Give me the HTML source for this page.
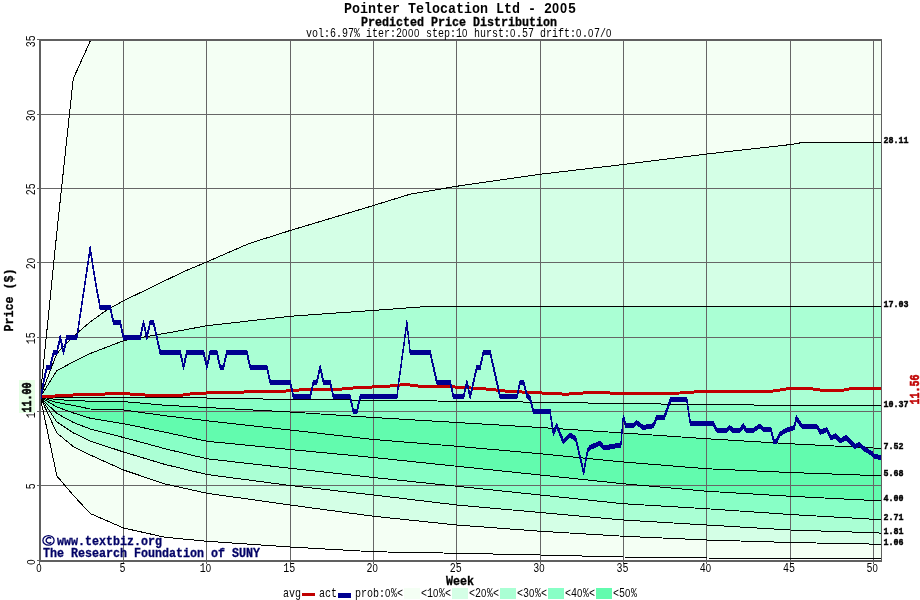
<!DOCTYPE html>
<html><head><meta charset="utf-8"><title>Pointer Telocation Ltd - 2005</title>
<style>html,body{margin:0;padding:0;background:#fff;}body{width:920px;height:600px;overflow:hidden;font-family:"Liberation Mono",monospace;}svg{display:block;}</style>
</head><body>
<svg width="920" height="600" viewBox="0 0 920 600">
<rect x="0" y="0" width="920" height="600" fill="#ffffff"/>
<g shape-rendering="crispEdges">
<polygon points="40.20,397.00 56.87,232.00 73.25,78.75 90.50,40.50 881.28,40.50 881.28,142.50 802.50,142.50 790.12,144.60 706.80,154.00 623.48,164.50 540.15,174.25 456.82,186.25 410.00,194.25 373.50,205.50 290.18,230.50 248.51,243.75 206.85,261.90 183.52,271.70 123.52,300.80 106.86,310.00 90.19,322.00 73.53,336.20 56.87,353.50 40.20,397.00" fill="#f4fff4"/>
<polygon points="40.20,397.00 56.87,353.50 73.53,336.20 90.19,322.00 106.86,310.00 123.52,300.80 183.52,271.70 206.85,261.90 248.51,243.75 290.18,230.50 373.50,205.50 410.00,194.25 456.82,186.25 540.15,174.25 623.48,164.50 706.80,154.00 790.12,144.60 802.50,142.50 881.28,142.50 881.28,306.50 440.16,306.50 420.16,307.00 373.50,310.40 290.18,316.25 206.85,325.75 174.35,331.70 123.52,340.70 90.19,353.50 73.53,361.70 56.87,370.70 40.20,397.00" fill="#d4ffe6"/>
<polygon points="40.20,397.00 56.87,370.70 73.53,361.70 90.19,353.50 123.52,340.70 174.35,331.70 206.85,325.75 290.18,316.25 373.50,310.40 420.16,307.00 440.16,306.50 881.28,306.50 881.28,405.90 873.45,405.80 790.12,405.40 706.80,404.50 623.48,403.60 540.15,402.20 456.82,401.25 373.50,400.20 290.18,399.50 206.85,398.00 165.19,397.80 123.52,397.60 90.19,398.00 73.53,397.80 56.87,397.50 40.20,397.00" fill="#aaffd4"/>
<polygon points="40.20,397.00 56.87,397.50 73.53,397.80 90.19,398.00 123.52,397.60 165.19,397.80 206.85,398.00 290.18,399.50 373.50,400.20 456.82,401.25 540.15,402.20 623.48,403.60 706.80,404.50 790.12,405.40 873.45,405.80 881.28,405.90 881.28,448.30 873.45,448.00 790.12,443.75 706.80,438.75 623.48,433.00 540.15,427.50 456.82,422.50 373.50,417.50 290.18,412.00 206.85,407.50 165.19,405.25 123.52,401.60 90.19,401.20 73.53,400.60 56.87,399.60 40.20,397.00" fill="#88ffc6"/>
<polygon points="40.20,397.00 56.87,399.60 73.53,400.60 90.19,401.20 123.52,401.60 165.19,405.25 206.85,407.50 290.18,412.00 373.50,417.50 456.82,422.50 540.15,427.50 623.48,433.00 706.80,438.75 790.12,443.75 873.45,448.00 881.28,448.30 881.28,475.60 873.45,475.50 790.12,472.50 706.80,468.75 623.48,462.00 540.15,453.75 456.82,446.25 373.50,439.50 290.18,430.00 206.85,420.75 165.19,415.75 123.52,410.00 90.19,409.00 73.53,405.50 56.87,402.50 40.20,397.00" fill="#62fbae"/>
<polygon points="40.20,397.00 56.87,402.50 73.53,405.50 90.19,409.00 123.52,410.00 165.19,415.75 206.85,420.75 290.18,430.00 373.50,439.50 456.82,446.25 540.15,453.75 623.48,462.00 706.80,468.75 790.12,472.50 873.45,475.50 881.28,475.60 881.28,500.60 873.45,500.50 790.12,496.25 706.80,491.25 623.48,483.75 540.15,475.00 456.82,466.25 373.50,457.50 290.18,449.50 206.85,441.25 165.19,432.25 123.52,423.70 90.19,418.20 73.53,413.00 56.87,407.00 40.20,397.00" fill="#62fbae"/>
<polygon points="40.20,397.00 56.87,407.00 73.53,413.00 90.19,418.20 123.52,423.70 165.19,432.25 206.85,441.25 290.18,449.50 373.50,457.50 456.82,466.25 540.15,475.00 623.48,483.75 706.80,491.25 790.12,496.25 873.45,500.50 881.28,500.60 881.28,519.70 873.45,519.25 790.12,514.50 706.80,508.75 623.48,503.75 540.15,495.00 456.82,486.25 373.50,477.50 290.18,468.25 206.85,458.75 165.19,448.75 123.52,437.50 90.19,429.00 73.53,422.50 56.87,413.50 40.20,397.00" fill="#88ffc6"/>
<polygon points="40.20,397.00 56.87,413.50 73.53,422.50 90.19,429.00 123.52,437.50 165.19,448.75 206.85,458.75 290.18,468.25 373.50,477.50 456.82,486.25 540.15,495.00 623.48,503.75 706.80,508.75 790.12,514.50 873.45,519.25 881.28,519.70 881.28,533.10 873.45,532.70 790.12,530.00 706.80,525.00 623.48,520.00 540.15,512.50 456.82,505.00 373.50,495.00 290.18,485.50 206.85,474.50 165.19,464.50 123.52,452.00 90.19,441.00 73.53,433.00 56.87,422.00 40.20,397.00" fill="#aaffd4"/>
<polygon points="40.20,397.00 56.87,422.00 73.53,433.00 90.19,441.00 123.52,452.00 165.19,464.50 206.85,474.50 290.18,485.50 373.50,495.00 456.82,505.00 540.15,512.50 623.48,520.00 706.80,525.00 790.12,530.00 873.45,532.70 881.28,533.10 881.28,544.25 873.45,544.10 790.12,542.50 706.80,540.00 623.48,536.25 540.15,531.25 456.82,525.00 373.50,516.25 290.18,505.00 206.85,493.25 165.19,484.00 123.52,470.00 90.19,455.00 73.53,446.80 56.87,433.00 40.20,397.00" fill="#d4ffe6"/>
<polygon points="40.20,397.00 56.87,433.00 73.53,446.80 90.19,455.00 123.52,470.00 165.19,484.00 206.85,493.25 290.18,505.00 373.50,516.25 456.82,525.00 540.15,531.25 623.48,536.25 706.80,540.00 790.12,542.50 873.45,544.10 881.28,544.25 881.28,558.50 873.45,558.50 790.12,558.50 706.80,558.00 623.48,557.00 540.15,555.00 456.82,553.25 373.50,551.75 290.18,547.00 206.85,541.25 165.19,537.30 123.52,528.00 90.19,513.50 73.53,495.50 56.87,476.00 40.20,397.00" fill="#f4fff4"/>
<rect x="123" y="41" width="1" height="523" fill="#666666"/>
<rect x="206" y="41" width="1" height="523" fill="#666666"/>
<rect x="290" y="41" width="1" height="523" fill="#666666"/>
<rect x="373" y="41" width="1" height="523" fill="#666666"/>
<rect x="456" y="41" width="1" height="523" fill="#666666"/>
<rect x="540" y="41" width="1" height="523" fill="#666666"/>
<rect x="623" y="41" width="1" height="523" fill="#666666"/>
<rect x="706" y="41" width="1" height="523" fill="#666666"/>
<rect x="790" y="41" width="1" height="523" fill="#666666"/>
<rect x="873" y="41" width="1" height="523" fill="#666666"/>
<rect x="37" y="114" width="844" height="1" fill="#666666"/>
<rect x="37" y="188" width="844" height="1" fill="#666666"/>
<rect x="37" y="262" width="844" height="1" fill="#666666"/>
<rect x="37" y="337" width="844" height="1" fill="#666666"/>
<rect x="37" y="411" width="844" height="1" fill="#666666"/>
<rect x="37" y="485" width="844" height="1" fill="#666666"/>
<polyline points="40.20,397.00 56.87,232.00 73.25,78.75 90.50,40.50 881.28,40.50" fill="none" stroke="#000000" stroke-width="1"/>
<polyline points="40.20,397.00 56.87,353.50 73.53,336.20 90.19,322.00 106.86,310.00 123.52,300.80 183.52,271.70 206.85,261.90 248.51,243.75 290.18,230.50 373.50,205.50 410.00,194.25 456.82,186.25 540.15,174.25 623.48,164.50 706.80,154.00 790.12,144.60 802.50,142.50 881.28,142.50" fill="none" stroke="#000000" stroke-width="1"/>
<polyline points="40.20,397.00 56.87,370.70 73.53,361.70 90.19,353.50 123.52,340.70 174.35,331.70 206.85,325.75 290.18,316.25 373.50,310.40 420.16,307.00 440.16,306.50 881.28,306.50" fill="none" stroke="#000000" stroke-width="1"/>
<polyline points="40.20,397.00 56.87,397.50 73.53,397.80 90.19,398.00 123.52,397.60 165.19,397.80 206.85,398.00 290.18,399.50 373.50,400.20 456.82,401.25 540.15,402.20 623.48,403.60 706.80,404.50 790.12,405.40 873.45,405.80 881.28,405.90" fill="none" stroke="#000000" stroke-width="1"/>
<polyline points="40.20,397.00 56.87,399.60 73.53,400.60 90.19,401.20 123.52,401.60 165.19,405.25 206.85,407.50 290.18,412.00 373.50,417.50 456.82,422.50 540.15,427.50 623.48,433.00 706.80,438.75 790.12,443.75 873.45,448.00 881.28,448.30" fill="none" stroke="#000000" stroke-width="1"/>
<polyline points="40.20,397.00 56.87,402.50 73.53,405.50 90.19,409.00 123.52,410.00 165.19,415.75 206.85,420.75 290.18,430.00 373.50,439.50 456.82,446.25 540.15,453.75 623.48,462.00 706.80,468.75 790.12,472.50 873.45,475.50 881.28,475.60" fill="none" stroke="#000000" stroke-width="1"/>
<polyline points="40.20,397.00 56.87,407.00 73.53,413.00 90.19,418.20 123.52,423.70 165.19,432.25 206.85,441.25 290.18,449.50 373.50,457.50 456.82,466.25 540.15,475.00 623.48,483.75 706.80,491.25 790.12,496.25 873.45,500.50 881.28,500.60" fill="none" stroke="#000000" stroke-width="1"/>
<polyline points="40.20,397.00 56.87,413.50 73.53,422.50 90.19,429.00 123.52,437.50 165.19,448.75 206.85,458.75 290.18,468.25 373.50,477.50 456.82,486.25 540.15,495.00 623.48,503.75 706.80,508.75 790.12,514.50 873.45,519.25 881.28,519.70" fill="none" stroke="#000000" stroke-width="1"/>
<polyline points="40.20,397.00 56.87,422.00 73.53,433.00 90.19,441.00 123.52,452.00 165.19,464.50 206.85,474.50 290.18,485.50 373.50,495.00 456.82,505.00 540.15,512.50 623.48,520.00 706.80,525.00 790.12,530.00 873.45,532.70 881.28,533.10" fill="none" stroke="#000000" stroke-width="1"/>
<polyline points="40.20,397.00 56.87,433.00 73.53,446.80 90.19,455.00 123.52,470.00 165.19,484.00 206.85,493.25 290.18,505.00 373.50,516.25 456.82,525.00 540.15,531.25 623.48,536.25 706.80,540.00 790.12,542.50 873.45,544.10 881.28,544.25" fill="none" stroke="#000000" stroke-width="1"/>
<polyline points="40.20,397.00 56.87,476.00 73.53,495.50 90.19,513.50 123.52,528.00 165.19,537.30 206.85,541.25 290.18,547.00 373.50,551.75 456.82,553.25 540.15,555.00 623.48,557.00 706.80,558.00 790.12,558.50 873.45,558.50 881.28,558.50" fill="none" stroke="#000000" stroke-width="1"/>
<path d="M41.00,395.70 L65.00,394.50 L65.00,396.50 L41.00,397.70Z M65.00,394.50 L82.00,393.50 L82.00,395.50 L65.00,396.50Z M82.00,393.50 L100.00,393.20 L100.00,395.20 L82.00,395.50Z M100.00,393.20 L115.00,392.60 L115.00,394.60 L100.00,395.20Z M115.00,392.60 L123.00,392.40 L123.00,394.40 L115.00,394.60Z M123.00,392.40 L132.00,393.20 L132.00,395.20 L123.00,394.40Z M132.00,393.20 L148.00,394.20 L148.00,396.20 L132.00,395.20Z M148.00,394.20 L182.00,394.20 L182.00,396.20 L148.00,396.20Z M182.00,394.20 L190.00,393.00 L190.00,395.00 L182.00,396.20Z M190.00,393.00 L200.00,392.20 L200.00,394.20 L190.00,395.00Z M200.00,392.20 L233.00,391.20 L233.00,393.20 L200.00,394.20Z M233.00,391.20 L266.00,390.60 L266.00,392.60 L233.00,393.20Z M266.00,390.60 L293.00,389.80 L293.00,391.80 L266.00,392.60Z M293.00,389.80 L303.00,388.40 L303.00,390.40 L293.00,391.80Z M303.00,388.40 L316.00,389.00 L316.00,391.00 L303.00,390.40Z M316.00,389.00 L336.00,388.80 L336.00,390.80 L316.00,391.00Z M336.00,388.80 L348.00,387.30 L348.00,389.30 L336.00,390.80Z M348.00,387.30 L366.00,386.20 L366.00,388.20 L348.00,389.30Z M366.00,386.20 L383.00,385.70 L383.00,387.70 L366.00,388.20Z M383.00,385.70 L395.00,384.50 L395.00,386.50 L383.00,387.70Z M395.00,384.50 L406.00,383.50 L406.00,385.50 L395.00,386.50Z M406.00,383.50 L413.00,384.30 L413.00,386.30 L406.00,385.50Z M413.00,384.30 L420.00,385.30 L420.00,387.30 L413.00,386.30Z M420.00,385.30 L450.00,385.70 L450.00,387.70 L420.00,387.30Z M450.00,385.70 L463.00,386.50 L463.00,388.50 L450.00,387.70Z M463.00,386.50 L476.00,387.30 L476.00,389.30 L463.00,388.50Z M476.00,387.30 L493.00,388.50 L493.00,390.50 L476.00,389.30Z M493.00,388.50 L501.00,389.80 L501.00,391.80 L493.00,390.50Z M501.00,389.80 L531.00,391.50 L531.00,393.50 L501.00,391.80Z M531.00,391.50 L549.00,392.30 L549.00,394.30 L531.00,393.50Z M549.00,392.30 L566.00,393.20 L566.00,395.20 L549.00,394.30Z M566.00,393.20 L583.00,392.00 L583.00,394.00 L566.00,395.20Z M583.00,392.00 L599.00,391.50 L599.00,393.50 L583.00,394.00Z M599.00,391.50 L616.00,392.30 L616.00,394.30 L599.00,393.50Z M616.00,392.30 L665.00,392.20 L665.00,394.20 L616.00,394.30Z M665.00,392.20 L680.00,392.00 L680.00,394.00 L665.00,394.20Z M680.00,392.00 L698.00,390.70 L698.00,392.70 L680.00,394.00Z M698.00,390.70 L747.00,390.30 L747.00,392.30 L698.00,392.70Z M747.00,390.30 L767.00,390.70 L767.00,392.70 L747.00,392.30Z M767.00,390.70 L777.00,389.50 L777.00,391.50 L767.00,392.70Z M777.00,389.50 L790.00,387.40 L790.00,389.40 L777.00,391.50Z M790.00,387.40 L810.00,387.50 L810.00,389.50 L790.00,389.40Z M810.00,387.50 L820.00,389.00 L820.00,391.00 L810.00,389.50Z M820.00,389.00 L844.00,389.00 L844.00,391.00 L820.00,391.00Z M844.00,389.00 L852.00,387.50 L852.00,389.50 L844.00,391.00Z M852.00,387.50 L881.00,387.40 L881.00,389.40 L852.00,389.50Z" fill="#c00000" stroke="#c00000" stroke-width="1" stroke-linejoin="round"/>
<path d="M41.00,394.93 L43.53,380.06 L43.53,384.06 L41.00,398.93Z M43.53,380.06 L46.87,365.19 L46.87,369.19 L43.53,384.06Z M46.87,365.19 L50.20,365.19 L50.20,369.19 L46.87,369.19Z M50.20,365.19 L53.53,350.32 L53.53,354.32 L50.20,369.19Z M53.53,350.32 L56.87,350.32 L56.87,354.32 L53.53,354.32Z M56.87,350.32 L60.20,335.45 L60.20,339.45 L56.87,354.32Z M60.20,335.45 L63.53,350.32 L63.53,354.32 L60.20,339.45Z M63.53,350.32 L66.86,335.45 L66.86,339.45 L63.53,354.32Z M66.86,335.45 L76.86,335.45 L76.86,339.45 L66.86,339.45Z M76.86,335.45 L80.20,313.14 L80.20,317.14 L76.86,339.45Z M80.20,313.14 L83.53,290.84 L83.53,294.84 L80.20,317.14Z M83.53,290.84 L86.86,268.54 L86.86,272.54 L83.53,294.84Z M86.86,268.54 L90.20,246.23 L90.20,250.23 L86.86,272.54Z M90.20,246.23 L93.53,268.54 L93.53,272.54 L90.20,250.23Z M93.53,268.54 L96.86,287.87 L96.86,291.87 L93.53,272.54Z M96.86,287.87 L100.19,305.71 L100.19,309.71 L96.86,291.87Z M100.19,305.71 L110.19,305.71 L110.19,309.71 L100.19,309.71Z M110.19,305.71 L113.53,320.58 L113.53,324.58 L110.19,309.71Z M113.53,320.58 L120.19,320.58 L120.19,324.58 L113.53,324.58Z M120.19,320.58 L123.53,335.45 L123.53,339.45 L120.19,324.58Z M123.53,335.45 L140.19,335.45 L140.19,339.45 L123.53,339.45Z M140.19,335.45 L143.52,320.58 L143.52,324.58 L140.19,339.45Z M143.52,320.58 L146.86,335.45 L146.86,339.45 L143.52,324.58Z M146.86,335.45 L150.19,320.58 L150.19,324.58 L146.86,339.45Z M150.19,320.58 L153.52,320.58 L153.52,324.58 L150.19,324.58Z M153.52,320.58 L156.86,335.45 L156.86,339.45 L153.52,324.58Z M156.86,335.45 L160.19,350.32 L160.19,354.32 L156.86,339.45Z M160.19,350.32 L180.19,350.32 L180.19,354.32 L160.19,354.32Z M180.19,350.32 L183.52,365.19 L183.52,369.19 L180.19,354.32Z M183.52,365.19 L186.85,350.32 L186.85,354.32 L183.52,369.19Z M186.85,350.32 L203.52,350.32 L203.52,354.32 L186.85,354.32Z M203.52,350.32 L206.85,365.19 L206.85,369.19 L203.52,354.32Z M206.85,365.19 L210.18,350.32 L210.18,354.32 L206.85,369.19Z M210.18,350.32 L216.85,350.32 L216.85,354.32 L210.18,354.32Z M216.85,350.32 L220.18,365.19 L220.18,369.19 L216.85,354.32Z M220.18,365.19 L223.51,365.19 L223.51,369.19 L220.18,369.19Z M223.51,365.19 L226.85,350.32 L226.85,354.32 L223.51,369.19Z M226.85,350.32 L246.85,350.32 L246.85,354.32 L226.85,354.32Z M246.85,350.32 L250.18,365.19 L250.18,369.19 L246.85,354.32Z M250.18,365.19 L266.84,365.19 L266.84,369.19 L250.18,369.19Z M266.84,365.19 L270.18,380.06 L270.18,384.06 L266.84,369.19Z M270.18,380.06 L290.18,380.06 L290.18,384.06 L270.18,384.06Z M290.18,380.06 L293.51,394.93 L293.51,398.93 L290.18,384.06Z M293.51,394.93 L310.17,394.93 L310.17,398.93 L293.51,398.93Z M310.17,394.93 L313.51,380.06 L313.51,384.06 L310.17,398.93Z M313.51,380.06 L316.84,380.06 L316.84,384.06 L313.51,384.06Z M316.84,380.06 L320.17,365.19 L320.17,369.19 L316.84,384.06Z M320.17,365.19 L323.50,380.06 L323.50,384.06 L320.17,369.19Z M323.50,380.06 L330.17,380.06 L330.17,384.06 L323.50,384.06Z M330.17,380.06 L333.50,394.93 L333.50,398.93 L330.17,384.06Z M333.50,394.93 L350.17,394.93 L350.17,398.93 L333.50,398.93Z M350.17,394.93 L353.50,409.80 L353.50,413.80 L350.17,398.93Z M353.50,409.80 L356.83,409.80 L356.83,413.80 L353.50,413.80Z M356.83,409.80 L360.17,394.93 L360.17,398.93 L356.83,413.80Z M360.17,394.93 L396.83,394.93 L396.83,398.93 L360.17,398.93Z M396.83,394.93 L400.16,369.65 L400.16,373.65 L396.83,398.93Z M400.16,369.65 L403.50,345.86 L403.50,349.86 L400.16,373.65Z M403.50,345.86 L406.83,320.58 L406.83,324.58 L403.50,349.86Z M406.83,320.58 L410.16,350.32 L410.16,354.32 L406.83,324.58Z M410.16,350.32 L430.16,350.32 L430.16,354.32 L410.16,354.32Z M430.16,350.32 L433.49,365.19 L433.49,369.19 L430.16,354.32Z M433.49,365.19 L436.83,380.06 L436.83,384.06 L433.49,369.19Z M436.83,380.06 L450.16,380.06 L450.16,384.06 L436.83,384.06Z M450.16,380.06 L453.49,394.93 L453.49,398.93 L450.16,384.06Z M453.49,394.93 L463.49,394.93 L463.49,398.93 L453.49,398.93Z M463.49,394.93 L466.82,380.06 L466.82,384.06 L463.49,398.93Z M466.82,380.06 L470.16,394.93 L470.16,398.93 L466.82,384.06Z M470.16,394.93 L473.49,380.06 L473.49,384.06 L470.16,398.93Z M473.49,380.06 L476.82,365.19 L476.82,369.19 L473.49,384.06Z M476.82,365.19 L480.16,365.19 L480.16,369.19 L476.82,369.19Z M480.16,365.19 L483.49,350.32 L483.49,354.32 L480.16,369.19Z M483.49,350.32 L490.16,350.32 L490.16,354.32 L483.49,354.32Z M490.16,350.32 L493.49,365.19 L493.49,369.19 L490.16,354.32Z M493.49,365.19 L496.82,380.06 L496.82,384.06 L493.49,369.19Z M496.82,380.06 L500.15,394.93 L500.15,398.93 L496.82,384.06Z M500.15,394.93 L516.82,394.93 L516.82,398.93 L500.15,398.93Z M516.82,394.93 L520.15,380.06 L520.15,384.06 L516.82,398.93Z M520.15,380.06 L523.49,380.06 L523.49,384.06 L520.15,384.06Z M523.49,380.06 L526.82,393.44 L526.82,397.44 L523.49,384.06Z M526.82,393.44 L530.15,396.42 L530.15,400.42 L526.82,397.44Z M530.15,396.42 L533.48,409.80 L533.48,413.80 L530.15,400.42Z M533.48,409.80 L550.15,409.80 L550.15,413.80 L533.48,413.80Z M550.15,409.80 L553.30,431.30 L553.30,435.30 L550.15,413.80Z M553.30,431.30 L556.70,423.80 L556.70,427.80 L553.30,435.30Z M556.70,423.80 L563.30,439.70 L563.30,443.70 L556.70,427.80Z M563.30,439.70 L570.00,433.00 L570.00,437.00 L563.30,443.70Z M570.00,433.00 L575.80,437.00 L575.80,441.00 L570.00,437.00Z M575.80,437.00 L583.70,470.50 L583.70,474.50 L575.80,441.00Z M583.70,470.50 L587.50,448.80 L587.50,452.80 L583.70,474.50Z M587.50,448.80 L590.00,445.50 L590.00,449.50 L587.50,452.80Z M590.00,445.50 L600.00,441.30 L600.00,445.30 L590.00,449.50Z M600.00,441.30 L604.00,446.00 L604.00,450.00 L600.00,445.30Z M604.00,446.00 L620.80,443.00 L620.80,447.00 L604.00,450.00Z M620.80,443.00 L623.30,415.00 L623.30,419.00 L620.80,447.00Z M623.30,415.00 L625.80,423.80 L625.80,427.80 L623.30,419.00Z M625.80,423.80 L633.30,423.80 L633.30,427.80 L625.80,427.80Z M633.30,423.80 L636.30,420.50 L636.30,424.50 L633.30,427.80Z M636.30,420.50 L643.30,425.50 L643.30,429.50 L636.30,424.50Z M643.30,425.50 L653.30,423.80 L653.30,427.80 L643.30,429.50Z M653.30,423.80 L656.70,415.50 L656.70,419.50 L653.30,427.80Z M656.70,415.50 L664.20,415.50 L664.20,419.50 L656.70,419.50Z M664.20,415.50 L670.80,397.40 L670.80,401.40 L664.20,419.50Z M670.80,397.40 L686.70,397.40 L686.70,401.40 L670.80,401.40Z M686.70,397.40 L690.30,421.30 L690.30,425.30 L686.70,401.40Z M690.30,421.30 L713.30,421.30 L713.30,425.30 L690.30,425.30Z M713.30,421.30 L716.70,428.00 L716.70,432.00 L713.30,425.30Z M716.70,428.00 L726.70,428.00 L726.70,432.00 L716.70,432.00Z M726.70,428.00 L729.70,425.50 L729.70,429.50 L726.70,432.00Z M729.70,425.50 L733.00,428.30 L733.00,432.30 L729.70,429.50Z M733.00,428.30 L740.00,428.30 L740.00,432.30 L733.00,432.30Z M740.00,428.30 L743.30,423.80 L743.30,427.80 L740.00,432.30Z M743.30,423.80 L746.30,428.30 L746.30,432.30 L743.30,427.80Z M746.30,428.30 L753.30,428.30 L753.30,432.30 L746.30,432.30Z M753.30,428.30 L760.00,423.80 L760.00,427.80 L753.30,432.30Z M760.00,423.80 L763.30,427.00 L763.30,431.00 L760.00,427.80Z M763.30,427.00 L770.80,427.00 L770.80,431.00 L763.30,431.00Z M770.80,427.00 L773.80,439.30 L773.80,443.30 L770.80,431.00Z M773.80,439.30 L776.00,440.00 L776.00,444.00 L773.80,443.30Z M776.00,440.00 L780.00,432.00 L780.00,436.00 L776.00,444.00Z M780.00,432.00 L786.70,428.00 L786.70,432.00 L780.00,436.00Z M786.70,428.00 L794.20,425.50 L794.20,429.50 L786.70,432.00Z M794.20,425.50 L796.40,415.80 L796.40,419.80 L794.20,429.50Z M796.40,415.80 L801.50,424.00 L801.50,428.00 L796.40,419.80Z M801.50,424.00 L816.50,424.00 L816.50,428.00 L801.50,428.00Z M816.50,424.00 L820.60,430.30 L820.60,434.30 L816.50,428.00Z M820.60,430.30 L826.80,427.50 L826.80,431.50 L820.60,434.30Z M826.80,427.50 L831.00,436.00 L831.00,440.00 L826.80,431.50Z M831.00,436.00 L835.30,433.90 L835.30,437.90 L831.00,440.00Z M835.30,433.90 L840.30,438.80 L840.30,442.80 L835.30,437.90Z M840.30,438.80 L846.00,435.70 L846.00,439.70 L840.30,442.80Z M846.00,435.70 L855.20,444.50 L855.20,448.50 L846.00,439.70Z M855.20,444.50 L859.40,442.40 L859.40,446.40 L855.20,448.50Z M859.40,442.40 L863.70,446.60 L863.70,450.60 L859.40,446.40Z M863.70,446.60 L872.00,451.60 L872.00,455.60 L863.70,450.60Z M872.00,451.60 L874.50,454.50 L874.50,458.50 L872.00,455.60Z M874.50,454.50 L880.50,455.50 L880.50,459.50 L874.50,458.50Z" fill="#000090" stroke="#000090" stroke-width="1" stroke-linejoin="round"/>
<rect x="39" y="39" width="843" height="2" fill="#606060"/>
<rect x="39" y="39" width="2" height="523" fill="#606060"/>
<rect x="39" y="560" width="843" height="2" fill="#606060"/>
<rect x="881" y="39" width="1" height="523" fill="#606060"/>
<rect x="37" y="560" width="2" height="1" fill="#606060"/>
<rect x="37" y="39" width="2" height="1" fill="#606060"/>
<rect x="39" y="562" width="1" height="2" fill="#606060"/>
<rect x="19" y="380" width="16" height="33" fill="#e6ffe6"/>
<rect x="302" y="593" width="13" height="3" fill="#c00000"/>
<rect x="338" y="593" width="13" height="5" fill="#000090"/>
<rect x="404" y="588" width="16" height="11" fill="#f4fff4"/>
<rect x="452" y="588" width="16" height="11" fill="#d4ffe6"/>
<rect x="500" y="588" width="16" height="11" fill="#aaffd4"/>
<rect x="548" y="588" width="16" height="11" fill="#88ffc6"/>
<rect x="596" y="588" width="16" height="11" fill="#62fbae"/>
</g>
<g style="font-family:'Liberation Mono',monospace" opacity="0.999">
<text x="344.00" y="13.00" font-size="15.20px" textLength="232.00" lengthAdjust="spacingAndGlyphs" font-weight="bold" fill="#000">Pointer Telocation Ltd - 2<tspan style="font-family:'Liberation Sans',sans-serif" font-size="14.56px" letter-spacing="1.03px" font-weight="bold">0</tspan><tspan style="font-family:'Liberation Sans',sans-serif" font-size="14.56px" letter-spacing="1.03px" font-weight="bold">0</tspan>5</text>
<text x="361.00" y="26.00" font-size="12.40px" textLength="196.00" lengthAdjust="spacingAndGlyphs" font-weight="bold" fill="#000" stroke="#000" stroke-width="0.30">Predicted Price Distribution</text>
<text x="306.00" y="37.40" font-size="12.10px" textLength="306.00" lengthAdjust="spacingAndGlyphs" font-weight="normal" fill="#000">vol:6.97% iter:2<tspan style="font-family:'Liberation Sans',sans-serif" font-size="11.59px" letter-spacing="0.82px" font-weight="normal">0</tspan><tspan style="font-family:'Liberation Sans',sans-serif" font-size="11.59px" letter-spacing="0.82px" font-weight="normal">0</tspan><tspan style="font-family:'Liberation Sans',sans-serif" font-size="11.59px" letter-spacing="0.82px" font-weight="normal">0</tspan> step:1<tspan style="font-family:'Liberation Sans',sans-serif" font-size="11.59px" letter-spacing="0.82px" font-weight="normal">0</tspan> hurst:<tspan style="font-family:'Liberation Sans',sans-serif" font-size="11.59px" letter-spacing="0.82px" font-weight="normal">0</tspan>.57 drift:<tspan style="font-family:'Liberation Sans',sans-serif" font-size="11.59px" letter-spacing="0.82px" font-weight="normal">0</tspan>.<tspan style="font-family:'Liberation Sans',sans-serif" font-size="11.59px" letter-spacing="0.82px" font-weight="normal">0</tspan>7/<tspan style="font-family:'Liberation Sans',sans-serif" font-size="11.59px" letter-spacing="0.82px" font-weight="normal">0</tspan></text>
<text x="36.20" y="572.30" font-size="12.10px" textLength="6.00" lengthAdjust="spacingAndGlyphs" font-weight="normal" fill="#000"><tspan style="font-family:'Liberation Sans',sans-serif" font-size="11.59px" letter-spacing="0.82px" font-weight="normal">0</tspan></text>
<text x="119.52" y="572.30" font-size="12.10px" textLength="6.00" lengthAdjust="spacingAndGlyphs" font-weight="normal" fill="#000">5</text>
<text x="199.85" y="572.30" font-size="12.10px" textLength="12.00" lengthAdjust="spacingAndGlyphs" font-weight="normal" fill="#000">1<tspan style="font-family:'Liberation Sans',sans-serif" font-size="11.59px" letter-spacing="0.82px" font-weight="normal">0</tspan></text>
<text x="283.18" y="572.30" font-size="12.10px" textLength="12.00" lengthAdjust="spacingAndGlyphs" font-weight="normal" fill="#000">15</text>
<text x="366.50" y="572.30" font-size="12.10px" textLength="12.00" lengthAdjust="spacingAndGlyphs" font-weight="normal" fill="#000">2<tspan style="font-family:'Liberation Sans',sans-serif" font-size="11.59px" letter-spacing="0.82px" font-weight="normal">0</tspan></text>
<text x="449.82" y="572.30" font-size="12.10px" textLength="12.00" lengthAdjust="spacingAndGlyphs" font-weight="normal" fill="#000">25</text>
<text x="533.15" y="572.30" font-size="12.10px" textLength="12.00" lengthAdjust="spacingAndGlyphs" font-weight="normal" fill="#000">3<tspan style="font-family:'Liberation Sans',sans-serif" font-size="11.59px" letter-spacing="0.82px" font-weight="normal">0</tspan></text>
<text x="616.48" y="572.30" font-size="12.10px" textLength="12.00" lengthAdjust="spacingAndGlyphs" font-weight="normal" fill="#000">35</text>
<text x="699.80" y="572.30" font-size="12.10px" textLength="12.00" lengthAdjust="spacingAndGlyphs" font-weight="normal" fill="#000">4<tspan style="font-family:'Liberation Sans',sans-serif" font-size="11.59px" letter-spacing="0.82px" font-weight="normal">0</tspan></text>
<text x="783.12" y="572.30" font-size="12.10px" textLength="12.00" lengthAdjust="spacingAndGlyphs" font-weight="normal" fill="#000">45</text>
<text x="866.45" y="572.30" font-size="12.10px" textLength="12.00" lengthAdjust="spacingAndGlyphs" font-weight="normal" fill="#000">5<tspan style="font-family:'Liberation Sans',sans-serif" font-size="11.59px" letter-spacing="0.82px" font-weight="normal">0</tspan></text>
<text x="446.00" y="585.00" font-size="12.40px" textLength="28.00" lengthAdjust="spacingAndGlyphs" font-weight="bold" fill="#000" stroke="#000" stroke-width="0.30">Week</text>
<text x="35.20" y="564.80" font-size="12.10px" textLength="6.00" lengthAdjust="spacingAndGlyphs" font-weight="normal" fill="#000" transform="rotate(-90 35.20 564.80)"><tspan style="font-family:'Liberation Sans',sans-serif" font-size="11.59px" letter-spacing="0.82px" font-weight="normal">0</tspan></text>
<text x="35.20" y="489.30" font-size="12.10px" textLength="6.00" lengthAdjust="spacingAndGlyphs" font-weight="normal" fill="#000" transform="rotate(-90 35.20 489.30)">5</text>
<text x="35.20" y="344.30" font-size="12.10px" textLength="12.00" lengthAdjust="spacingAndGlyphs" font-weight="normal" fill="#000" transform="rotate(-90 35.20 344.30)">15</text>
<text x="35.20" y="269.30" font-size="12.10px" textLength="12.00" lengthAdjust="spacingAndGlyphs" font-weight="normal" fill="#000" transform="rotate(-90 35.20 269.30)">2<tspan style="font-family:'Liberation Sans',sans-serif" font-size="11.59px" letter-spacing="0.82px" font-weight="normal">0</tspan></text>
<text x="35.20" y="195.30" font-size="12.10px" textLength="12.00" lengthAdjust="spacingAndGlyphs" font-weight="normal" fill="#000" transform="rotate(-90 35.20 195.30)">25</text>
<text x="35.20" y="121.30" font-size="12.10px" textLength="12.00" lengthAdjust="spacingAndGlyphs" font-weight="normal" fill="#000" transform="rotate(-90 35.20 121.30)">3<tspan style="font-family:'Liberation Sans',sans-serif" font-size="11.59px" letter-spacing="0.82px" font-weight="normal">0</tspan></text>
<text x="35.20" y="47.30" font-size="12.10px" textLength="12.00" lengthAdjust="spacingAndGlyphs" font-weight="normal" fill="#000" transform="rotate(-90 35.20 47.30)">35</text>
<text x="35.20" y="418.30" font-size="12.10px" textLength="6.00" lengthAdjust="spacingAndGlyphs" font-weight="normal" fill="#000" transform="rotate(-90 35.20 418.30)">1</text>
<text x="12.80" y="331.50" font-size="12.40px" textLength="63.00" lengthAdjust="spacingAndGlyphs" font-weight="bold" fill="#000" transform="rotate(-90 12.80 331.50)" stroke="#000" stroke-width="0.30">Price ($)</text>
<text x="31.40" y="412.50" font-size="12.90px" textLength="30.00" lengthAdjust="spacingAndGlyphs" font-weight="bold" fill="#000" transform="rotate(-90 31.40 412.50)" stroke="#000" stroke-width="0.60">11.00</text>
<text x="918.60" y="404.50" font-size="12.90px" textLength="30.00" lengthAdjust="spacingAndGlyphs" font-weight="bold" fill="#c00000" transform="rotate(-90 918.60 404.50)" stroke="#c00000" stroke-width="0.60">11.56</text>
<ellipse cx="48.5" cy="540.4" rx="5.6" ry="4.8" fill="none" stroke="#000066" stroke-width="1.3"/>
<path d="M51.2,538.6 A2.9,2.7 0 1 0 51.2,542.2" fill="none" stroke="#000066" stroke-width="1.4"/>
<text x="57.00" y="545.00" font-size="12.40px" textLength="105.00" lengthAdjust="spacingAndGlyphs" font-weight="bold" fill="#000066" stroke="#000066" stroke-width="0.30">www.textbiz.org</text>
<text x="43.00" y="557.00" font-size="12.40px" textLength="217.00" lengthAdjust="spacingAndGlyphs" font-weight="bold" fill="#000066" stroke="#000066" stroke-width="0.30">The Research Foundation of SUNY</text>
<text x="283.00" y="597.30" font-size="12.10px" textLength="18.00" lengthAdjust="spacingAndGlyphs" font-weight="normal" fill="#000">avg</text>
<text x="319.00" y="597.30" font-size="12.10px" textLength="18.00" lengthAdjust="spacingAndGlyphs" font-weight="normal" fill="#000">act</text>
<text x="355.00" y="597.30" font-size="12.10px" textLength="48.00" lengthAdjust="spacingAndGlyphs" font-weight="normal" fill="#000">prob:<tspan style="font-family:'Liberation Sans',sans-serif" font-size="11.59px" letter-spacing="0.82px" font-weight="normal">0</tspan>%&lt;</text>
<text x="421.00" y="597.30" font-size="12.10px" textLength="30.00" lengthAdjust="spacingAndGlyphs" font-weight="normal" fill="#000">&lt;1<tspan style="font-family:'Liberation Sans',sans-serif" font-size="11.59px" letter-spacing="0.82px" font-weight="normal">0</tspan>%&lt;</text>
<text x="469.00" y="597.30" font-size="12.10px" textLength="30.00" lengthAdjust="spacingAndGlyphs" font-weight="normal" fill="#000">&lt;2<tspan style="font-family:'Liberation Sans',sans-serif" font-size="11.59px" letter-spacing="0.82px" font-weight="normal">0</tspan>%&lt;</text>
<text x="517.00" y="597.30" font-size="12.10px" textLength="30.00" lengthAdjust="spacingAndGlyphs" font-weight="normal" fill="#000">&lt;3<tspan style="font-family:'Liberation Sans',sans-serif" font-size="11.59px" letter-spacing="0.82px" font-weight="normal">0</tspan>%&lt;</text>
<text x="565.00" y="597.30" font-size="12.10px" textLength="30.00" lengthAdjust="spacingAndGlyphs" font-weight="normal" fill="#000">&lt;4<tspan style="font-family:'Liberation Sans',sans-serif" font-size="11.59px" letter-spacing="0.82px" font-weight="normal">0</tspan>%&lt;</text>
<text x="613.00" y="597.30" font-size="12.10px" textLength="24.00" lengthAdjust="spacingAndGlyphs" font-weight="normal" fill="#000">&lt;5<tspan style="font-family:'Liberation Sans',sans-serif" font-size="11.59px" letter-spacing="0.82px" font-weight="normal">0</tspan>%</text>
<text x="883.50" y="143.20" font-size="9.20px" textLength="25.00" lengthAdjust="spacingAndGlyphs" font-weight="bold" fill="#000" stroke="#000" stroke-width="0.45">28.11</text>
<text x="883.50" y="307.20" font-size="9.20px" textLength="25.00" lengthAdjust="spacingAndGlyphs" font-weight="bold" fill="#000" stroke="#000" stroke-width="0.45">17.03</text>
<text x="883.50" y="406.60" font-size="9.20px" textLength="25.00" lengthAdjust="spacingAndGlyphs" font-weight="bold" fill="#000" stroke="#000" stroke-width="0.45">10.37</text>
<text x="883.50" y="449.00" font-size="9.20px" textLength="20.00" lengthAdjust="spacingAndGlyphs" font-weight="bold" fill="#000" stroke="#000" stroke-width="0.45">7.52</text>
<text x="883.50" y="476.30" font-size="9.20px" textLength="20.00" lengthAdjust="spacingAndGlyphs" font-weight="bold" fill="#000" stroke="#000" stroke-width="0.45">5.68</text>
<text x="883.50" y="501.30" font-size="9.20px" textLength="20.00" lengthAdjust="spacingAndGlyphs" font-weight="bold" fill="#000" stroke="#000" stroke-width="0.45">4.00</text>
<text x="883.50" y="520.40" font-size="9.20px" textLength="20.00" lengthAdjust="spacingAndGlyphs" font-weight="bold" fill="#000" stroke="#000" stroke-width="0.45">2.71</text>
<text x="883.50" y="533.80" font-size="9.20px" textLength="20.00" lengthAdjust="spacingAndGlyphs" font-weight="bold" fill="#000" stroke="#000" stroke-width="0.45">1.81</text>
<text x="883.50" y="544.95" font-size="9.20px" textLength="20.00" lengthAdjust="spacingAndGlyphs" font-weight="bold" fill="#000" stroke="#000" stroke-width="0.45">1.06</text>
</g>
</svg>
</body></html>
